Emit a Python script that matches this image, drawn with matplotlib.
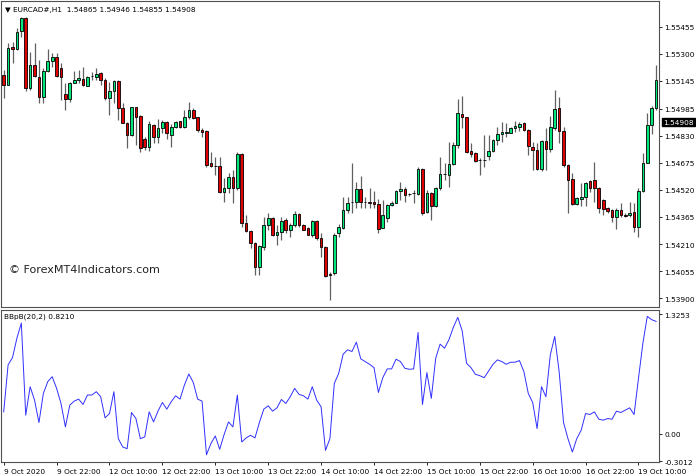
import matplotlib
matplotlib.use("Agg")
import matplotlib.pyplot as plt
import numpy as np

opens = [1.55181,1.55123,1.55340,1.55330,1.55433,1.55508,1.55106,1.55238,1.55169,1.55054,
1.55203,1.55261,1.55284,1.55221,1.55071,1.55043,1.55135,1.55152,1.55158,1.55117,
1.55175,1.55169,1.55192,1.55152,1.55048,1.55089,1.55146,1.54991,1.54905,1.54836,
1.54997,1.54945,1.54813,1.54767,1.54894,1.54825,1.54876,1.54911,1.54836,1.54882,
1.54917,1.54882,1.54939,1.54980,1.54939,1.54865,1.54859,1.54675,1.54658,1.54658,
1.54509,1.54532,1.54595,1.54532,1.54727,1.54331,1.54285,1.54216,1.54078,1.54193,
1.54320,1.54360,1.54262,1.54279,1.54348,1.54291,1.54320,1.54383,1.54320,1.54302,
1.54262,1.54343,1.54245,1.54193,1.54038,1.54044,1.54274,1.54302,1.54406,1.54451,
1.54451,1.54526,1.54451,1.54451,1.54451,1.54440,1.54302,1.54360,1.54434,1.54446,
1.54515,1.54526,1.54497,1.54503,1.54497,1.54641,1.54394,1.54503,1.54429,1.54532,
1.54612,1.54606,1.54670,1.54779,1.54957,1.54939,1.54744,1.54733,1.54693,1.54693,
1.54716,1.54744,1.54807,1.54842,1.54848,1.54848,1.54876,1.54882,1.54905,1.54865,
1.54767,1.54750,1.54641,1.54802,1.54756,1.54876,1.54991,1.54859,1.54664,1.54584,
1.54440,1.54469,1.54480,1.54572,1.54578,1.54532,1.54463,1.54417,1.54406,1.54365,
1.54406,1.54377,1.54377,1.54394,1.54308,1.54515,1.54675,1.54894,1.54991]
closes = [1.55123,1.55335,1.55328,1.55427,1.55508,1.55106,1.55238,1.55175,1.55054,1.55203,
1.55261,1.55284,1.55175,1.55169,1.55043,1.55135,1.55152,1.55160,1.55123,1.55169,
1.55173,1.55186,1.55152,1.55048,1.55089,1.55146,1.54991,1.54905,1.54836,1.54997,
1.54939,1.54762,1.54767,1.54899,1.54825,1.54876,1.54911,1.54848,1.54882,1.54911,
1.54882,1.54939,1.54980,1.54934,1.54865,1.54853,1.54664,1.54658,1.54655,1.54509,
1.54532,1.54595,1.54532,1.54727,1.54331,1.54285,1.54216,1.54078,1.54199,1.54320,
1.54360,1.54262,1.54279,1.54343,1.54291,1.54320,1.54383,1.54320,1.54291,1.54262,
1.54343,1.54245,1.54193,1.54027,1.54035,1.54262,1.54308,1.54406,1.54446,1.54451,
1.54526,1.54451,1.54450,1.54446,1.54440,1.54297,1.54377,1.54434,1.54446,1.54515,
1.54526,1.54492,1.54496,1.54502,1.54641,1.54388,1.54503,1.54429,1.54532,1.54612,
1.54610,1.54670,1.54779,1.54962,1.54939,1.54739,1.54727,1.54687,1.54691,1.54691,
1.54744,1.54807,1.54842,1.54853,1.54853,1.54876,1.54888,1.54899,1.54865,1.54773,
1.54750,1.54641,1.54802,1.54756,1.54882,1.54985,1.54859,1.54664,1.54578,1.54440,
1.54474,1.54480,1.54561,1.54532,1.54532,1.54417,1.54411,1.54400,1.54365,1.54406,
1.54377,1.54371,1.54388,1.54308,1.54515,1.54675,1.54894,1.54991,1.55152]
highs = [1.55209,1.55364,1.55370,1.55450,1.55513,1.55513,1.55312,1.55364,1.55267,1.55221,
1.55330,1.55307,1.55307,1.55249,1.55135,1.55140,1.55203,1.55209,1.55226,1.55175,
1.55198,1.55221,1.55198,1.55163,1.55140,1.55152,1.55152,1.55020,1.54911,1.54997,
1.54997,1.54951,1.54825,1.54917,1.54899,1.54928,1.54922,1.54917,1.54899,1.54917,
1.54917,1.54980,1.55026,1.54991,1.54939,1.54876,1.54865,1.54739,1.54710,1.54710,
1.54589,1.54618,1.54635,1.54739,1.54733,1.54377,1.54291,1.54222,1.54205,1.54365,
1.54388,1.54365,1.54320,1.54365,1.54360,1.54331,1.54400,1.54388,1.54325,1.54308,
1.54348,1.54348,1.54274,1.54199,1.54050,1.54274,1.54325,1.54480,1.54480,1.54675,
1.54566,1.54601,1.54480,1.54532,1.54515,1.54469,1.54463,1.54440,1.54457,1.54520,
1.54566,1.54538,1.54503,1.54520,1.54652,1.54647,1.54520,1.54509,1.54538,1.54710,
1.54675,1.54796,1.54796,1.55043,1.55060,1.54939,1.54790,1.54739,1.54704,1.54836,
1.54836,1.54813,1.54882,1.54911,1.54905,1.54882,1.54917,1.54911,1.54911,1.54871,
1.54796,1.54790,1.54807,1.54876,1.54945,1.55094,1.55054,1.54882,1.54670,1.54618,
1.54480,1.54561,1.54566,1.54578,1.54681,1.54538,1.54469,1.54423,1.54411,1.54417,
1.54446,1.54388,1.54451,1.54446,1.54532,1.54733,1.54962,1.55003,1.55238]
lows = [1.55048,1.55123,1.55249,1.55324,1.55399,1.55089,1.55094,1.55169,1.55020,1.55020,
1.55198,1.55226,1.55169,1.55037,1.54980,1.55026,1.55135,1.55135,1.55117,1.55117,
1.55152,1.55152,1.55123,1.55037,1.54951,1.55020,1.54922,1.54905,1.54762,1.54830,
1.54779,1.54739,1.54750,1.54744,1.54790,1.54790,1.54848,1.54813,1.54767,1.54876,
1.54876,1.54876,1.54928,1.54928,1.54853,1.54825,1.54652,1.54652,1.54606,1.54503,
1.54451,1.54503,1.54446,1.54520,1.54308,1.54279,1.54188,1.54033,1.54033,1.54176,
1.54291,1.54256,1.54205,1.54233,1.54274,1.54251,1.54308,1.54308,1.54291,1.54262,
1.54251,1.54233,1.54136,1.54021,1.53889,1.54033,1.54251,1.54297,1.54388,1.54388,
1.54417,1.54417,1.54417,1.54417,1.54417,1.54274,1.54302,1.54337,1.54429,1.54446,
1.54463,1.54451,1.54486,1.54446,1.54492,1.54377,1.54388,1.54348,1.54423,1.54520,
1.54578,1.54538,1.54664,1.54762,1.54876,1.54733,1.54710,1.54681,1.54606,1.54652,
1.54693,1.54739,1.54779,1.54796,1.54825,1.54848,1.54853,1.54859,1.54859,1.54721,
1.54635,1.54635,1.54629,1.54635,1.54739,1.54865,1.54790,1.54652,1.54388,1.54434,
1.54434,1.54429,1.54429,1.54509,1.54451,1.54388,1.54377,1.54388,1.54337,1.54297,
1.54365,1.54365,1.54365,1.54279,1.54251,1.54509,1.54675,1.54842,1.54980]

bbpb = [0.244,0.763,0.844,1.059,1.226,0.207,0.522,0.374,0.126,0.448,
0.578,0.633,0.504,0.337,0.078,0.319,0.363,0.385,0.326,0.430,
0.430,0.467,0.411,0.178,0.226,0.467,-0.052,-0.144,-0.163,0.237,
0.170,-0.052,-0.033,0.244,0.133,0.252,0.348,0.274,0.356,0.422,
0.385,0.541,0.663,0.570,0.385,0.363,-0.230,-0.107,-0.022,-0.170,
-0.007,0.133,0.078,0.430,-0.089,-0.044,-0.015,-0.044,0.126,0.274,
0.311,0.252,0.289,0.381,0.337,0.411,0.504,0.437,0.422,0.385,
0.522,0.374,0.300,-0.181,-0.052,0.559,0.670,0.881,0.930,0.911,
1.015,0.830,0.800,0.770,0.733,0.459,0.622,0.719,0.719,0.826,
0.800,0.726,0.715,0.719,1.122,0.326,0.678,0.393,0.837,0.993,
0.948,1.041,1.178,1.289,1.141,0.781,0.733,0.659,0.644,0.622,
0.696,0.770,0.819,0.800,0.770,0.793,0.793,0.811,0.689,0.448,
0.348,0.059,0.522,0.411,0.874,1.078,0.689,0.126,-0.052,-0.200,
-0.052,0.041,0.226,0.215,0.244,0.163,0.152,0.170,0.163,0.252,
0.237,0.263,0.289,0.215,0.615,1.004,1.300,1.263,1.244]

price_ticks = [1.55455,1.55300,1.55145,1.54985,1.54830,1.54675,1.54520,1.54365,1.54210,1.54055,1.53900]
time_labels = ["9 Oct 2020","9 Oct 22:00","12 Oct 10:00","12 Oct 22:00","13 Oct 10:00",
               "13 Oct 22:00","14 Oct 10:00","14 Oct 22:00","15 Oct 10:00","15 Oct 22:00",
               "16 Oct 10:00","16 Oct 22:00","19 Oct 10:00"]
ind_ticks = [1.3253, 0.0, -0.3012]
ind_labels = ["1.3253", "0.00", "-0.3012"]
current_price = 1.54908

plt.rcParams['font.family'] = ['DejaVu Sans']
fig = plt.figure(figsize=(6.96, 4.77), dpi=100)
ax = fig.add_axes([0.0015, 0.354, 0.945, 0.642])
ax2 = fig.add_axes([0.0015, 0.029, 0.945, 0.319])

n = len(opens)
x = np.arange(n)
o = np.array(opens); c = np.array(closes); h = np.array(highs); l = np.array(lows)
up = c >= o
ax.vlines(x, l, h, color='#606060', lw=0.9, zorder=1)
bottom = np.minimum(o, c)
height = np.maximum(np.abs(c - o), 0.000012)
ax.bar(x[up], height[up], bottom=bottom[up], width=0.6, color='#00E67A',
       edgecolor='black', linewidth=0.6, zorder=2)
ax.bar(x[~up], height[~up], bottom=bottom[~up], width=0.6, color='#E00000',
       edgecolor='black', linewidth=0.6, zorder=2)

for a in (ax, ax2):
    a.set_xlim(-0.6, n - 0.4)
    a.yaxis.tick_right()
    a.tick_params(axis='y', length=2, labelsize=5.3, pad=2, width=0.6)
    for s in a.spines.values():
        s.set_linewidth(0.8)
        s.set_color('#505050')

ax.set_ylim(1.53848, 1.55604)
ax.set_yticks(price_ticks)
ax.set_yticklabels([f"{v:.5f}" for v in price_ticks])
ax.set_xticks([])
ax.annotate(f"{current_price:.5f}", xy=(1.0, current_price), xycoords=('axes fraction', 'data'),
            xytext=(3, 0), textcoords='offset points', fontsize=5.3, color='white', va='center',
            bbox=dict(boxstyle='square,pad=0.15', fc='black', ec='black'), annotation_clip=False)
ax.text(0.006, 0.985, "\u25BC EURCAD#,H1  1.54865 1.54946 1.54855 1.54908", transform=ax.transAxes,
        fontsize=5.3, va='top', ha='left')
ax.text(0.012, 0.124, "\u00A9 ForexMT4Indicators.com", transform=ax.transAxes,
        fontsize=8, va='center', ha='left', color='#222222')

ax2.plot(x, bbpb, color='#3030FF', lw=0.7)
ax2.set_ylim(-0.312, 1.37)
ax2.set_yticks(ind_ticks)
ax2.set_yticklabels(ind_labels)
ax2.set_xticks(x[::12])
ax2.set_xticklabels(time_labels, ha='left', fontsize=5.3)
ax2.tick_params(axis='x', length=2, pad=2, width=0.6)
ax2.text(0.004, 0.985, "BBpB(20,2) 0.8210", transform=ax2.transAxes,
         fontsize=5.3, va='top', ha='left')

fig.savefig("out.png", dpi=100)
